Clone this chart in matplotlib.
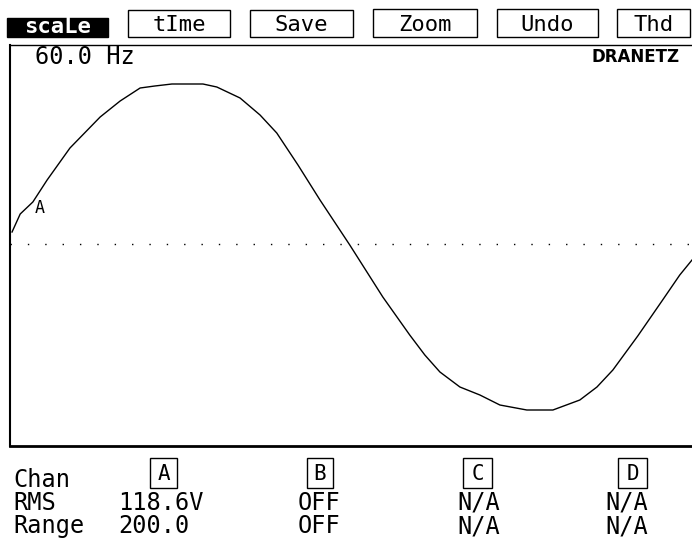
import matplotlib.pyplot as plt
from matplotlib.patches import Rectangle

# waveform (time in ms, volts)
t_ms = [0.05, 0.25, 0.56, 0.91, 1.47, 2.21, 2.70, 3.19, 3.55, 3.97, 4.41,
        4.73, 5.07, 5.64, 6.13, 6.54, 7.06, 7.60, 8.33, 9.14, 9.80, 10.17,
        10.54, 11.03, 11.52, 12.01, 12.67, 12.99, 13.31, 13.97, 14.39,
        14.78, 15.39, 16.00, 16.42, 16.72]
volts = [12, 30, 42, 64, 96, 127, 143, 156, 158, 160, 160,
         160, 157, 146, 129, 111, 79, 44, -1, -53, -91, -111,
         -128, -143, -151, -161, -166, -166, -166, -156, -143,
         -126, -92, -56, -31, -16]

menu = ['scaLe', 'tIme', 'Save', 'Zoom', 'Undo', 'Thd']
channels = ['A', 'B', 'C', 'D']
rms = ['118.6V', 'OFF', 'N/A', 'N/A']
ranges = ['200.0', 'OFF', 'N/A', 'N/A']
freq = '60.0 Hz'

W, H = 692, 546
fig = plt.figure(figsize=(W / 100, H / 100), dpi=100)
mono = 'DejaVu Sans Mono'

# scope trace area
ax = fig.add_axes([10 / W, (H - 446) / H, 682 / W, 401 / H])
ax.plot(t_ms, volts, color='black', lw=1.0)
ax.axhline(0, color='black', lw=1.0, linestyle=(0, (1, 11.5)))
ax.set_xlim(0, 16.72)
ax.set_ylim(-202, 199)
ax.set_xticks([])
ax.set_yticks([])
ax.spines['right'].set_visible(False)
ax.spines['left'].set_linewidth(1.5)
ax.spines['top'].set_linewidth(1.0)
ax.spines['bottom'].set_linewidth(2.0)
ax.text(0.6, 27, 'A', fontsize=12, family=mono, ha='left', va='bottom')

# overlay in screen pixels for menu and readouts
ov = fig.add_axes([0, 0, 1, 1], facecolor='none')
ov.set_xlim(0, W)
ov.set_ylim(H, 0)
ov.axis('off')

boxes = [(7, 108, 18, 37), (128, 230, 10, 37), (250, 353, 10, 37),
         (373, 477, 9, 37), (497, 598, 9, 37), (617, 690, 9, 37)]
for i, (lab, (x0, x1, y0, y1)) in enumerate(zip(menu, boxes)):
    if i == 0:
        ov.add_patch(Rectangle((x0, y0), x1 - x0, y1 - y0, facecolor='black',
                               edgecolor='black'))
        ov.text((x0 + x1) / 2, 27, lab, color='white', fontsize=16,
                family=mono, weight='bold', ha='center', va='center')
    else:
        ov.add_patch(Rectangle((x0, y0), x1 - x0, y1 - y0, facecolor='none',
                               edgecolor='black', lw=1.0))
        ov.text((x0 + x1) / 2, 25, lab, fontsize=16, family=mono,
                ha='center', va='center')

ov.text(35, 57, freq, fontsize=17, family=mono, ha='left', va='center')
ov.text(680, 57, 'DRANETZ', fontsize=12, weight='bold', family='DejaVu Sans',
        ha='right', va='center')

row_y = [480, 503, 526]
for lab, y in zip(['Chan', 'RMS', 'Range'], row_y):
    ov.text(13, y, lab, fontsize=17, family=mono, ha='left', va='center')

box_x = [(150, 177), (307, 333), (463, 492), (618, 647)]
val_x = [118, 298, 457, 605]
for ch, (x0, x1), vx, r, g in zip(channels, box_x, val_x, rms, ranges):
    ov.add_patch(Rectangle((x0, 458), x1 - x0, 30, facecolor='none',
                           edgecolor='black', lw=1.0))
    ov.text((x0 + x1) / 2, 474, ch, fontsize=15, family=mono,
            ha='center', va='center')
    ov.text(vx, row_y[1], r, fontsize=17, family=mono, ha='left', va='center')
    ov.text(vx, row_y[2], g, fontsize=17, family=mono, ha='left', va='center')

fig.savefig('out.png', dpi=100)
